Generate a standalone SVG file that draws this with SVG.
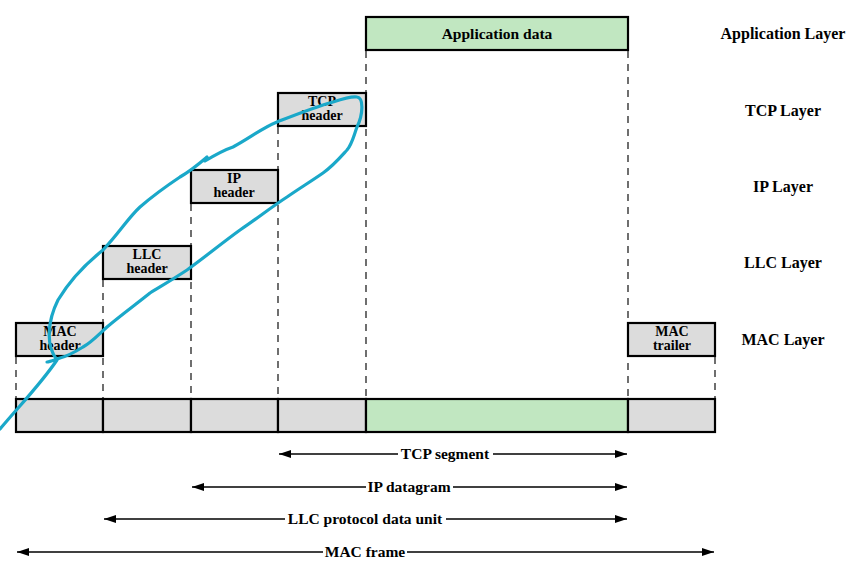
<svg xmlns="http://www.w3.org/2000/svg" width="853" height="577" viewBox="0 0 853 577">
<style>
.box{stroke:#000;stroke-width:2.2}
.g{fill:#dcdcdc}
.a{fill:#c1e7c1}
.d{stroke:#222;stroke-width:1.3;stroke-dasharray:7 6;fill:none}
.t{font-family:"Liberation Serif","Times New Roman",serif;font-weight:bold;font-size:14px;text-anchor:middle;fill:#000}
.L{font-family:"Liberation Serif","Times New Roman",serif;font-weight:bold;font-size:16px;text-anchor:middle;fill:#000}
.m{font-size:15.5px}
.ar{stroke:#000;stroke-width:1.3;fill:none}
</style>
<defs>
<marker id="ah" viewBox="0 0 12 8" refX="12" refY="4" markerWidth="12" markerHeight="8" markerUnits="userSpaceOnUse" orient="auto">
<path d="M0,0 L12,4 L0,8 Z" fill="#000"/>
</marker>
</defs>
<rect width="853" height="577" fill="#fff"/>
<g id="dashes">
<line class="d" x1="16" y1="357" x2="16" y2="399"/>
<line class="d" x1="103" y1="280" x2="103" y2="399"/>
<line class="d" x1="191" y1="204" x2="191" y2="399"/>
<line class="d" x1="278" y1="127" x2="278" y2="399"/>
<line class="d" x1="366" y1="51" x2="366" y2="399"/>
<line class="d" x1="628" y1="51" x2="628" y2="399"/>
<line class="d" x1="715" y1="357" x2="715" y2="399"/>
</g>
<g id="app-data"><rect class="box a" x="366" y="17" width="262" height="33"/><text class="L m" x="497" y="39">Application data</text></g>
<g id="tcp-header"><rect class="box g" x="278" y="93" width="88" height="33"/><text class="t" x="322" y="106">TCP</text><text class="t" x="322" y="120">header</text></g>
<g id="ip-header"><rect class="box g" x="191" y="170" width="87" height="33"/><text class="t" x="234" y="183">IP</text><text class="t" x="234" y="197">header</text></g>
<g id="llc-header"><rect class="box g" x="103" y="246" width="88" height="33"/><text class="t" x="147" y="259">LLC</text><text class="t" x="147" y="273">header</text></g>
<g id="mac-header"><rect class="box g" x="16" y="323" width="87" height="33"/><text class="t" x="60" y="336">MAC</text><text class="t" x="60" y="350">header</text></g>
<g id="mac-trailer"><rect class="box g" x="628" y="323" width="87" height="33"/><text class="t" x="672" y="336">MAC</text><text class="t" x="672" y="350">trailer</text></g>
<g id="frame">
<rect class="box g" x="16" y="399" width="87" height="33"/>
<rect class="box g" x="103" y="399" width="88" height="33"/>
<rect class="box g" x="191" y="399" width="87" height="33"/>
<rect class="box g" x="278" y="399" width="88" height="33"/>
<rect class="box a" x="366" y="399" width="262" height="33"/>
<rect class="box g" x="628" y="399" width="87" height="33"/>
</g>
<g id="layers">
<text class="L" x="783" y="39">Application Layer</text>
<text class="L" x="783" y="116">TCP Layer</text>
<text class="L" x="783" y="192">IP Layer</text>
<text class="L" x="783" y="268">LLC Layer</text>
<text class="L" x="783" y="345">MAC Layer</text>
</g>
<g id="connectors">
<line class="ar" x1="398" y1="454" x2="279" y2="454" marker-end="url(#ah)"/>
<line class="ar" x1="493" y1="454" x2="627" y2="454" marker-end="url(#ah)"/>
<line class="ar" x1="366" y1="487" x2="192" y2="487" marker-end="url(#ah)"/>
<line class="ar" x1="453" y1="487" x2="627" y2="487" marker-end="url(#ah)"/>
<line class="ar" x1="285" y1="519" x2="104" y2="519" marker-end="url(#ah)"/>
<line class="ar" x1="446" y1="519" x2="627" y2="519" marker-end="url(#ah)"/>
<line class="ar" x1="323" y1="552" x2="17" y2="552" marker-end="url(#ah)"/>
<line class="ar" x1="407" y1="552" x2="714" y2="552" marker-end="url(#ah)"/>
</g>
<g id="arrow-labels">
<text class="L m" x="445" y="459">TCP segment</text>
<text class="L m" x="409" y="492">IP datagram</text>
<text class="L m" x="365" y="524">LLC protocol data unit</text>
<text class="L m" x="365" y="557">MAC frame</text>
</g>
<g id="annotation">
<path d="M0,429 C20,405 40,385 57,360 C45,345 48,320 58,300 C70,280 88,262 103,250 C120,232 128,218 140,207 C155,194 168,185 180,177 C192,170 200,163 207,157 L205,161 C215,155 224,150 233,147 C250,138 262,128 277,122 C295,115 315,107 333,102 C345,98 352,96 357,97 C364,98 363,115 357,127 C353,138 352,144 347,150 C338,160 333,166 323,173 C310,182 300,188 287,197 C270,208 258,218 240,230 C222,243 205,257 187,270 C175,278 163,285 150,293 C135,305 120,316 107,327 C98,335 92,342 83,347 C75,352 68,356 60,358 C54,360 50,362 47,362" fill="none" stroke="#1aa8c9" stroke-width="3.2" stroke-linecap="round" stroke-linejoin="round"/>
</g>
</svg>
